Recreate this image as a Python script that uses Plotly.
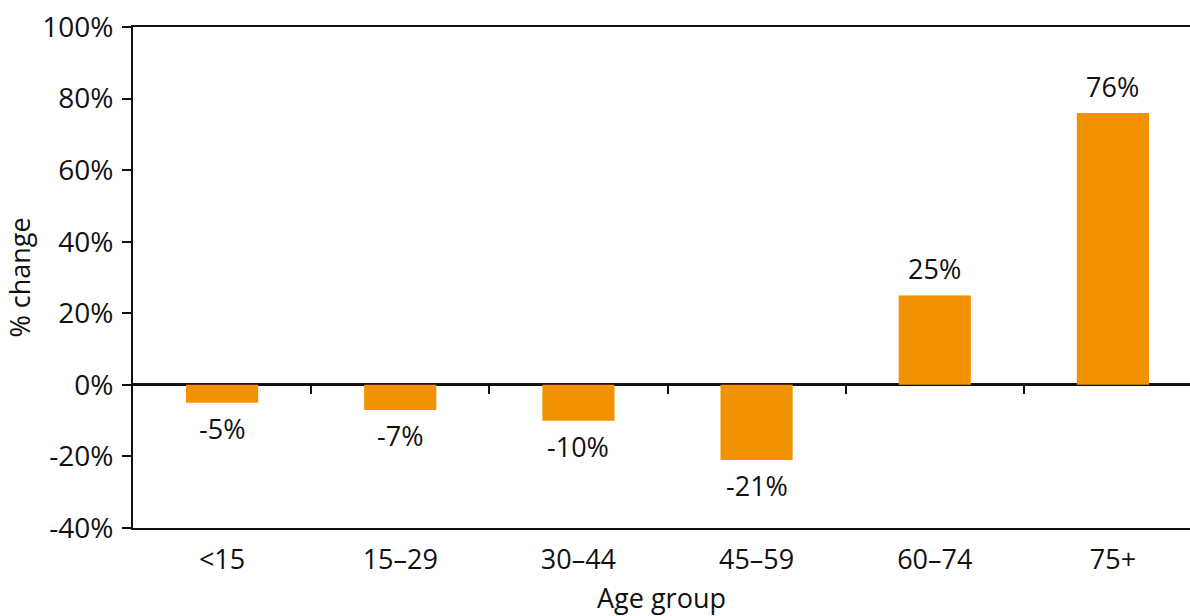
import plotly.graph_objects as go

# Percentage change in population by age group
age_groups = ["<15", "15\u201329", "30\u201344", "45\u201359", "60\u201374", "75+"]
pct_change = [-5, -7, -10, -21, 25, 76]
y_ticks = [-40, -20, 0, 20, 40, 60, 80, 100]

BAR_COLOR = "#F29200"
FONT = "Open Sans"
FS = 28

fig = go.Figure()
fig.add_trace(go.Bar(
    x=age_groups,
    y=pct_change,
    marker=dict(color=BAR_COLOR, line=dict(width=0)),
    width=0.405,
    hoverinfo="skip",
))

# value labels just beyond the end of each bar
for cat, val in zip(age_groups, pct_change):
    fig.add_annotation(
        x=cat, y=val, xref="x", yref="y",
        text=f"{val}%",
        showarrow=False,
        yanchor="bottom" if val >= 0 else "top",
        yshift=6 if val >= 0 else -5,
        font=dict(family=FONT, size=FS - 1, color="#111111"),
    )

n = len(age_groups)
x_max = n - 0.5 - 12 / 178.0
zero_pos = (0 - y_ticks[0]) / (y_ticks[-1] - y_ticks[0])

fig.update_layout(
    width=1190, height=616,
    margin=dict(l=133, r=0, t=27, b=88),
    paper_bgcolor="white",
    plot_bgcolor="white",
    showlegend=False,
    font=dict(family=FONT, size=FS, color="#111111"),
    xaxis=dict(
        type="category",
        range=[-0.5, x_max],
        showline=True, linecolor="#111111", linewidth=2,
        mirror=True,
        ticks="", showgrid=False, zeroline=False,
        ticklabelstandoff=7,
        tickfont=dict(family=FONT, size=FS - 1),
        title=dict(text="Age group", standoff=14,
                   font=dict(family=FONT, size=FS - 1)),
    ),
    # category separators hanging below the zero line
    xaxis2=dict(
        overlaying="x", anchor="free", position=zero_pos, side="bottom",
        range=[-0.5, x_max],
        tickmode="array",
        tickvals=[i + 0.5 for i in range(n - 1)],
        showticklabels=False,
        ticks="outside", ticklen=8, tickwidth=2, tickcolor="#111111",
        showline=False, showgrid=False, zeroline=False,
    ),
    yaxis=dict(
        range=[y_ticks[0], y_ticks[-1]],
        tickmode="array",
        tickvals=y_ticks,
        ticktext=[f"{v}%" for v in y_ticks],
        showline=True, linecolor="#111111", linewidth=2,
        ticks="outside", ticklen=9, tickwidth=2, tickcolor="#111111",
        ticklabelstandoff=3,
        showgrid=False,
        zeroline=True, zerolinecolor="#111111", zerolinewidth=2.5,
        tickfont=dict(family=FONT, size=FS),
        title=dict(text="% change", standoff=4,
                   font=dict(family=FONT, size=FS - 1)),
    ),
)

# invisible trace so the separator axis is drawn
fig.add_trace(go.Scatter(x=[-0.5], y=[0], xaxis="x2", yaxis="y",
                         mode="markers", marker=dict(opacity=0),
                         hoverinfo="skip", showlegend=False))

fig.write_html("out.html")
